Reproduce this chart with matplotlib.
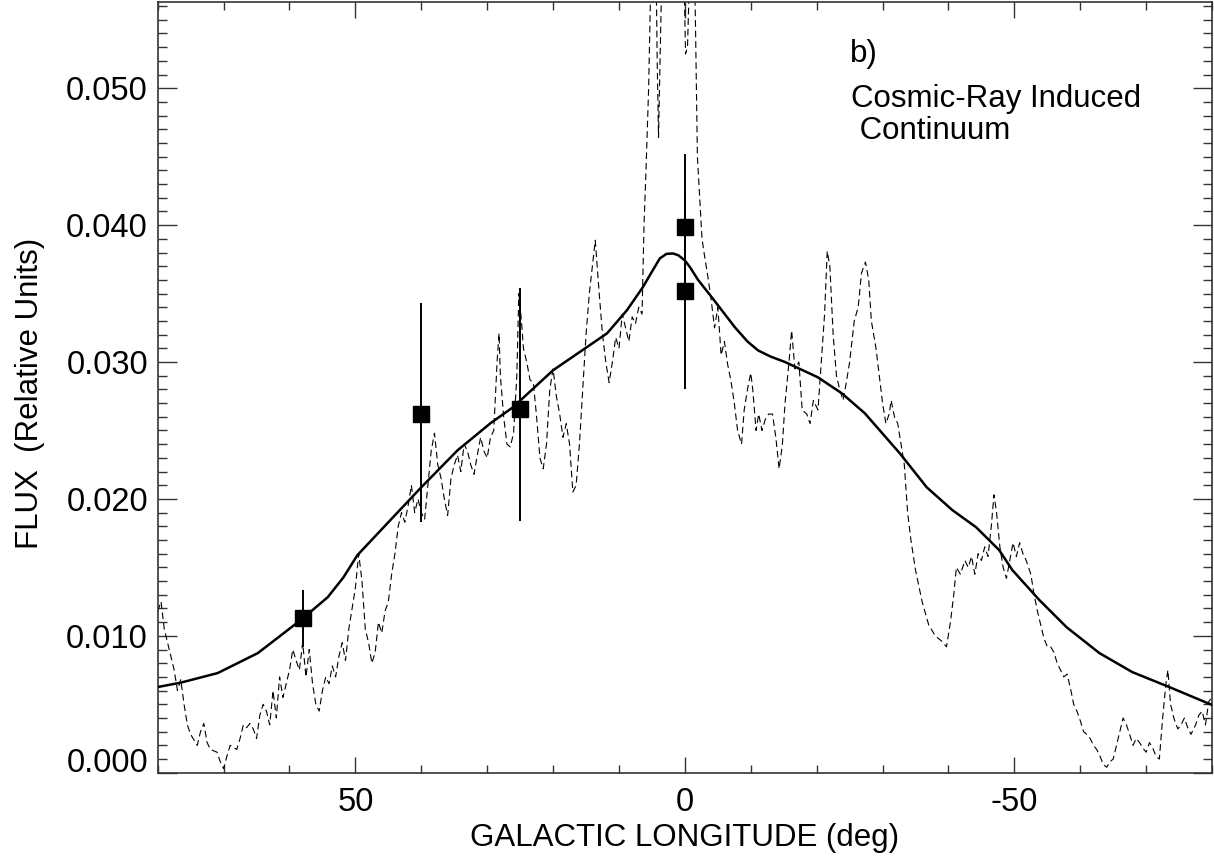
#!/usr/bin/env python3

import matplotlib
matplotlib.use("Agg")
import matplotlib.pyplot as plt
from matplotlib.ticker import MultipleLocator, FixedLocator
from matplotlib.transforms import ScaledTranslation

plt.rcParams['font.family'] = ['Liberation Sans', 'DejaVu Sans']

# Measured points (squares with error bars)
point_lon = [58.0, 40.0, 25.0, 0.0, 0.0]
point_flux = [0.01127, 0.02618, 0.02660, 0.03990, 0.03516]
point_err_lo = [0.0021, 0.0079, 0.0082, 0.0053, 0.0071]
point_err_hi = [0.0021, 0.0081, 0.0088, 0.0053, 0.0071]

# Model curve (solid line)
model_lon = [80.0, 76.5, 70.9, 64.8, 58.3, 54.2, 51.8, 49.7, 44.7, 40.0, 34.5,
             29.5, 26.1, 20.0, 11.8, 8.8, 6.4, 5.0, 3.8, 2.8, 1.8, 1.0, 0.0,
             -0.8, -2.0, -4.1, -7.6, -9.5, -11.1, -13.0, -15.2, -20.2, -23.8,
             -27.3, -32.6, -36.7, -40.6, -44.2, -47.7, -49.7, -53.8, -57.9,
             -62.9, -67.9, -73.5, -80.0]
model_flux = [0.00626, 0.00658, 0.00728, 0.00874, 0.01115, 0.01282, 0.01428,
              0.01589, 0.01845, 0.02085, 0.02355, 0.02553, 0.02669, 0.02940,
              0.03210, 0.03378, 0.03545, 0.03660, 0.03757, 0.03790, 0.03793,
              0.03780, 0.03742, 0.03691, 0.03600, 0.03472, 0.03253, 0.03150,
              0.03085, 0.03040, 0.03000, 0.02888, 0.02772, 0.02626, 0.02334,
              0.02085, 0.01918, 0.01793, 0.01626, 0.01480, 0.01261, 0.01064,
              0.00874, 0.00735, 0.00626, 0.00495]

# Observed profile (dashed line)
profile_lon = [
    80.0, 79.5, 79.0, 78.5, 78.0, 77.5, 77.0, 76.5, 76.0, 75.5, 75.0, 74.0,
    73.5, 73.0, 72.5, 72.0, 71.0, 70.5, 70.0, 69.5, 69.0, 68.0, 67.5, 67.0,
    66.5, 66.0, 65.5, 65.0, 64.5, 64.0, 63.5, 63.0, 62.5, 62.0, 61.5, 61.0,
    60.0, 59.5, 59.0, 58.5, 58.0, 57.5, 57.0, 56.5, 56.0, 55.5, 55.0, 54.5,
    54.0, 53.5, 53.0, 52.5, 52.0, 51.5, 51.0, 50.5, 50.0, 49.5, 49.0, 48.5,
    48.0, 47.5, 47.0, 46.5, 46.0, 45.5, 45.0, 44.5, 44.0, 43.5, 43.0, 42.5,
    42.0, 41.5, 41.0, 40.5, 40.0, 39.5, 39.0, 38.5, 38.0, 37.5, 37.0, 36.5,
    36.0, 35.5, 35.0, 34.5, 34.0, 33.5, 33.0, 32.5, 32.0, 31.5, 31.0, 30.5,
    30.0, 29.5, 29.0, 28.5, 28.2, 28.0, 27.5, 27.0, 26.5, 26.0, 25.5, 25.2,
    24.8, 24.5, 24.0, 23.5, 23.0, 22.5, 22.0, 21.5, 21.0, 20.5, 20.0, 19.5,
    19.0, 18.5, 18.0, 17.5, 17.0, 16.5, 16.0, 15.5, 15.0, 14.5, 14.0, 13.6,
    13.0, 12.5, 12.0, 11.5, 11.0, 10.5, 10.0, 9.5, 9.0, 8.5, 8.0, 7.5,
    7.0, 6.5, 6.2, 5.9, 5.5, 5.0, 4.6, 4.2, 4.0, 3.6, 3.0, 2.0,
    1.0, 0.2, -0.1, -0.4, -0.8, -1.2, -1.6, -1.9, -2.3, -2.6, -3.0, -3.5,
    -4.0, -4.5, -5.0, -5.5, -6.0, -6.5, -7.0, -7.5, -8.0, -8.6, -9.0, -9.5,
    -10.0, -10.3, -10.8, -11.2, -11.7, -12.2, -12.7, -13.3, -13.8, -14.3, -14.8, -15.2,
    -15.8, -16.2, -16.7, -17.3, -17.8, -18.5, -19.0, -19.5, -20.2, -20.7, -21.2, -21.6,
    -22.0, -22.5, -23.0, -23.5, -24.0, -24.5, -25.0, -25.7, -26.3, -26.8, -27.4, -27.9,
    -28.3, -29.0, -29.5, -30.0, -30.5, -31.0, -31.3, -31.8, -32.3, -32.8, -33.3, -33.8,
    -34.3, -35.0, -36.0, -37.0, -38.0, -39.0, -39.7, -40.3, -40.8, -41.2, -41.8, -42.5,
    -43.0, -43.5, -44.0, -44.5, -45.0, -45.5, -46.0, -46.5, -46.9, -47.3, -47.8, -48.3,
    -48.8, -49.3, -49.8, -50.3, -50.8, -51.3, -51.8, -52.5, -53.0, -53.5, -54.0, -54.5,
    -55.0, -55.5, -56.0, -56.5, -57.0, -57.5, -58.0, -58.5, -59.0, -59.5, -60.0, -60.5,
    -61.0, -61.5, -62.0, -62.5, -63.0, -63.5, -64.0, -64.5, -65.0, -65.5, -66.0, -66.5,
    -67.0, -67.5, -68.0, -68.5, -69.0, -69.5, -70.0, -70.5, -71.0, -71.5, -72.0, -72.5,
    -73.0, -73.3, -73.7, -74.2, -74.8, -75.3, -75.8, -76.3, -76.8, -77.5, -78.0, -78.5,
    -79.0, -79.5, -80.0]
profile_flux = [
    0.0118, 0.0125, 0.0105, 0.0095, 0.0085, 0.0075, 0.0060, 0.0068, 0.0050, 0.0035, 0.0028, 0.0020,
    0.0030, 0.0036, 0.0022, 0.0017, 0.0015, 0.0008, 0.0003, 0.0012, 0.0020, 0.0017, 0.0025, 0.0035,
    0.0033, 0.0036, 0.0032, 0.0025, 0.0042, 0.0050, 0.0045, 0.0035, 0.0060, 0.0040, 0.0070, 0.0055,
    0.0075, 0.0090, 0.0082, 0.0075, 0.0095, 0.0070, 0.0090, 0.0065, 0.0050, 0.0045, 0.0060, 0.0070,
    0.0065, 0.0078, 0.0070, 0.0085, 0.0095, 0.0082, 0.0105, 0.0120, 0.0135, 0.0160, 0.0140, 0.0105,
    0.0095, 0.0080, 0.0088, 0.0110, 0.0102, 0.0118, 0.0125, 0.0145, 0.0160, 0.0180, 0.0190, 0.0183,
    0.0195, 0.0210, 0.0190, 0.0200, 0.0190, 0.0185, 0.0210, 0.0235, 0.0248, 0.0225, 0.0215, 0.0200,
    0.0188, 0.0215, 0.0225, 0.0232, 0.0220, 0.0240, 0.0235, 0.0225, 0.0218, 0.0232, 0.0245, 0.0235,
    0.0230, 0.0245, 0.0250, 0.0300, 0.0321, 0.0290, 0.0260, 0.0240, 0.0238, 0.0248, 0.0290, 0.0350,
    0.0330, 0.0310, 0.0300, 0.0287, 0.0285, 0.0260, 0.0230, 0.0222, 0.0240, 0.0280, 0.0295, 0.0275,
    0.0262, 0.0245, 0.0255, 0.0240, 0.0205, 0.0210, 0.0240, 0.0280, 0.0320, 0.0350, 0.0372, 0.0389,
    0.0350, 0.0320, 0.0300, 0.0285, 0.0300, 0.0318, 0.0310, 0.0335, 0.0325, 0.0315, 0.0333, 0.0328,
    0.0340, 0.0335, 0.0400, 0.0440, 0.0500, 0.0620, 0.0680, 0.0520, 0.0464, 0.0560, 0.0700, 0.0800,
    0.0750, 0.0600, 0.0525, 0.0530, 0.0600, 0.0650, 0.0550, 0.0450, 0.0415, 0.0390, 0.0377, 0.0362,
    0.0345, 0.0325, 0.0340, 0.0305, 0.0315, 0.0298, 0.0286, 0.0270, 0.0250, 0.0240, 0.0265, 0.0280,
    0.0292, 0.0280, 0.0250, 0.0262, 0.0250, 0.0258, 0.0262, 0.0262, 0.0245, 0.0222, 0.0240, 0.0270,
    0.0300, 0.0323, 0.0295, 0.0300, 0.0265, 0.0262, 0.0255, 0.0272, 0.0265, 0.0300, 0.0335, 0.0381,
    0.0370, 0.0320, 0.0290, 0.0280, 0.0272, 0.0285, 0.0300, 0.0330, 0.0340, 0.0365, 0.0373, 0.0360,
    0.0330, 0.0310, 0.0290, 0.0270, 0.0255, 0.0262, 0.0272, 0.0260, 0.0255, 0.0240, 0.0225, 0.0190,
    0.0170, 0.0148, 0.0125, 0.0108, 0.0100, 0.0096, 0.0092, 0.0110, 0.0130, 0.0150, 0.0145, 0.0155,
    0.0150, 0.0158, 0.0145, 0.0160, 0.0155, 0.0165, 0.0158, 0.0180, 0.0203, 0.0190, 0.0165, 0.0150,
    0.0142, 0.0155, 0.0168, 0.0158, 0.0168, 0.0160, 0.0155, 0.0145, 0.0130, 0.0118, 0.0108, 0.0098,
    0.0092, 0.0092, 0.0088, 0.0080, 0.0075, 0.0070, 0.0072, 0.0062, 0.0050, 0.0045, 0.0038, 0.0030,
    0.0028, 0.0025, 0.0020, 0.0017, 0.0012, 0.0006, 0.0004, 0.0008, 0.0010, 0.0020, 0.0030, 0.0040,
    0.0035, 0.0028, 0.0020, 0.0025, 0.0022, 0.0018, 0.0015, 0.0022, 0.0018, 0.0012, 0.0010, 0.0040,
    0.0065, 0.0075, 0.0050, 0.0040, 0.0032, 0.0035, 0.0040, 0.0033, 0.0028, 0.0035, 0.0042, 0.0045,
    0.0035, 0.0052, 0.0055]

y_ticks = [0.0, 0.01, 0.02, 0.03, 0.04, 0.05]
y_tick_labels = ["0.000", "0.010", "0.020", "0.030", "0.040", "0.050"]
x_ticks = [50, 0, -50]
x_tick_labels = ["50", "0", "-50"]


def plot_profile():
    fig = plt.figure(figsize=(12.14, 8.63), dpi=100)
    ax = fig.add_axes([0.1299, 0.1046, 0.8685, 0.8931])

    # dashed observed profile
    ax.plot(profile_lon, profile_flux, color="black", linewidth=0.8,
            dashes=(6, 3.5), zorder=2)
    # solid model
    ax.plot(model_lon, model_flux, color="black", linewidth=1.8, zorder=3)
    # points with error bars
    ax.errorbar(point_lon, point_flux, yerr=[point_err_lo, point_err_hi],
                fmt="s", color="black", markersize=11, elinewidth=1.4,
                capsize=0, zorder=4)

    ax.set_xlim(80, -80)
    ax.set_ylim(0, 0.0563)

    ax.xaxis.set_major_locator(FixedLocator(x_ticks))
    ax.set_xticklabels(x_tick_labels)
    ax.xaxis.set_minor_locator(MultipleLocator(10))
    ax.yaxis.set_major_locator(FixedLocator(y_ticks))
    ax.set_yticklabels(y_tick_labels)
    ax.yaxis.set_minor_locator(MultipleLocator(0.001))

    ax.tick_params(which="both", direction="in", top=True, right=True,
                   color="#333333", width=1.0, labelsize=23.5)
    ax.tick_params(axis="y", which="major", length=14, pad=7)
    ax.tick_params(axis="y", which="minor", length=6.5)
    ax.tick_params(axis="x", which="major", length=11.5, pad=10)
    ax.tick_params(axis="x", which="minor", length=6)
    for spine in ax.spines.values():
        spine.set_color("#333333")
        spine.set_linewidth(1.2)

    # IDL-style: lowest y label lifted above the x axis
    lab0 = ax.get_yticklabels()[0]
    lab0.set_transform(lab0.get_transform() + ScaledTranslation(0, 0.13, fig.dpi_scale_trans))

    ax.text(-25.0, 0.0525, "b)", fontsize=22.5, ha="left", va="center")
    ax.text(-25.2, 0.0492, "Cosmic-Ray Induced", fontsize=22.5, ha="left", va="center")
    ax.text(-25.2, 0.0469, " Continuum", fontsize=22.5, ha="left", va="center")

    fig.text(685 / 1214, 1 - 838 / 863, "GALACTIC LONGITUDE (deg)",
             fontsize=22.5, ha="center", va="center")
    fig.text(30 / 1214, 1 - 393 / 863, "FLUX  (Relative Units)",
             fontsize=22.5, ha="center", va="center", rotation=90)

    fig.savefig("out.png", dpi=100)


def main():
    plot_profile()


if __name__ == "__main__":
    main()
